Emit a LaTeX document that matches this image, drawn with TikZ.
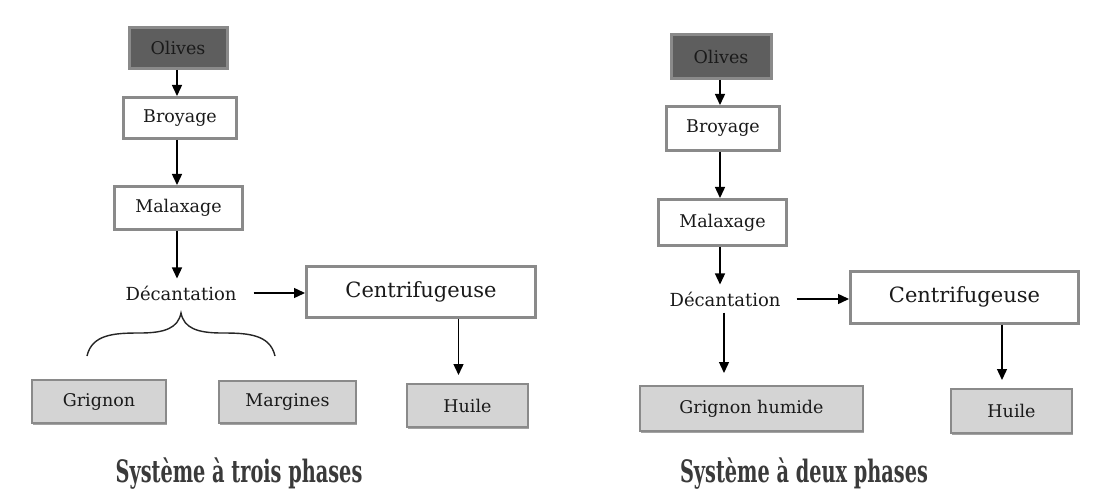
\documentclass[tikz,border=0pt]{standalone}
\usepackage{graphicx}
\usepackage{fontspec}
\setmainfont{DejaVu Serif}
\usetikzlibrary{arrows.meta,shadows,calc}
\definecolor{bordergray}{HTML}{8A8A8A}
\definecolor{darkfill}{HTML}{5E5E5E}
\definecolor{lightfill}{HTML}{D4D4D4}
\definecolor{titlegray}{HTML}{3A3A3A}
\definecolor{ink}{HTML}{1A1A1A}
\tikzset{
  box/.style={draw=bordergray, line width=3pt, inner sep=0pt, text=ink, font=\fontsize{17.5}{21}\selectfont},
  whitebox/.style={box, fill=white},
  darkbox/.style={box, fill=darkfill},
  lightbox/.style={box, fill=lightfill, line width=2pt,
    drop shadow={shadow xshift=0.5pt, shadow yshift=-2pt, fill=gray!80, opacity=0.9}},
  label/.style={inner sep=0pt, text=ink, font=\fontsize{18}{21}\selectfont},
  bigbox/.style={whitebox, font=\fontsize{21}{25}\selectfont},
  arr/.style={line width=1.4pt, draw=black, -{Triangle[length=11pt,width=10pt]}},
  title/.style={inner sep=0pt, anchor=base, text=titlegray, font=\bfseries\fontsize{19.3}{23}\selectfont},
  brace/.style={line width=1.4pt, draw=black!85},
}
\begin{document}
\begin{tikzpicture}[x=1pt,y=-1pt]
\useasboundingbox (0,0) rectangle (1102,489);
\fill[white] (0,0) rectangle (1102,489);

% ---------- three-phase system ----------
\node[darkbox, minimum width=98pt, minimum height=41pt] (oliveL) at (178,48) {Olives};
\node[whitebox, minimum width=113pt, minimum height=41pt] (broyL) at (180,118) {Broyage};
\node[whitebox, minimum width=128pt, minimum height=43pt] (malaxL) at (178.5,208) {Malaxage};
\node[label] (decL) at (181,293) {Décantation};
\node[bigbox, minimum width=229pt, minimum height=51pt] (centL) at (421,291.5) {Centrifugeuse};
\node[lightbox, minimum width=134pt, minimum height=43pt] (grigL) at (99,401.5) {Grignon};
\node[lightbox, minimum width=137pt, minimum height=42pt] (margL) at (287.5,402) {Margines};
\node[lightbox, minimum width=121pt, minimum height=43pt] (huileL) at (467.5,405.5) {Huile};
\node[title] (titleL) at (239,482) {\scalebox{1}[1.6]{Système à trois phases}};

\draw[arr] ([xshift=-1pt]oliveL.south) -- ([xshift=-1pt]oliveL.south |- broyL.north);
\draw[arr] ([xshift=-3pt]broyL.south) -- ([xshift=-3pt]broyL.south |- malaxL.north);
\draw[arr] ([xshift=-1.5pt]malaxL.south) -- ([xshift=-1.5pt,yshift=7pt]malaxL.south |- decL.north);
\draw[arr] ([xshift=17pt]decL.east) -- (centL.west |- decL.east);
\draw[arr] ([xshift=-9pt]huileL.north |- centL.south) -- ([xshift=-9pt,yshift=8pt]huileL.north);

\coordinate (braceTip) at (181,313);
\coordinate (braceL) at (87,356);
\coordinate (braceR) at (275,356);
\draw[brace] (braceL) .. controls (92,334) and (115,333) .. (140,333)
  .. controls (165,333) and (178,328) .. (braceTip)
  .. controls (184,328) and (197,333) .. (222,333)
  .. controls (247,333) and (270,334) .. (braceR);

% ---------- two-phase system ----------
\node[darkbox, minimum width=100pt, minimum height=44pt] (oliveR) at (721,56.5) {Olives};
\node[whitebox, minimum width=113pt, minimum height=44pt] (broyR) at (723,128.5) {Broyage};
\node[whitebox, minimum width=128pt, minimum height=46pt] (malaxR) at (722.5,222.5) {Malaxage};
\node[label] (decR) at (725,299) {Décantation};
\node[bigbox, minimum width=228pt, minimum height=52pt] (centR) at (964.5,297) {Centrifugeuse};
\node[lightbox, minimum width=223pt, minimum height=45pt] (grigR) at (751.5,408.5) {Grignon humide};
\node[lightbox, minimum width=121pt, minimum height=44pt] (huileR) at (1011.5,411) {Huile};
\node[title] (titleR) at (804,482) {\scalebox{1}[1.6]{Système à deux phases}};

\draw[arr] ([xshift=-1pt]oliveR.south) -- ([xshift=-1pt]oliveR.south |- broyR.north);
\draw[arr] ([xshift=-3pt]broyR.south) -- ([xshift=-3pt]broyR.south |- malaxR.north);
\draw[arr] ([xshift=-2.5pt]malaxR.south) -- ([xshift=-2.5pt,yshift=7pt]malaxR.south |- decR.north);
\draw[arr] ([xshift=16pt]decR.east) -- (centR.west |- decR.east);
\draw[arr] ([xshift=-1pt,yshift=-6pt]decR.south) -- ([xshift=-1pt,yshift=12pt]decR.south |- grigR.north);
\draw[arr] ([xshift=-9.5pt]huileR.north |- centR.south) -- ([xshift=-9.5pt,yshift=8pt]huileR.north);
\end{tikzpicture}
\end{document}
